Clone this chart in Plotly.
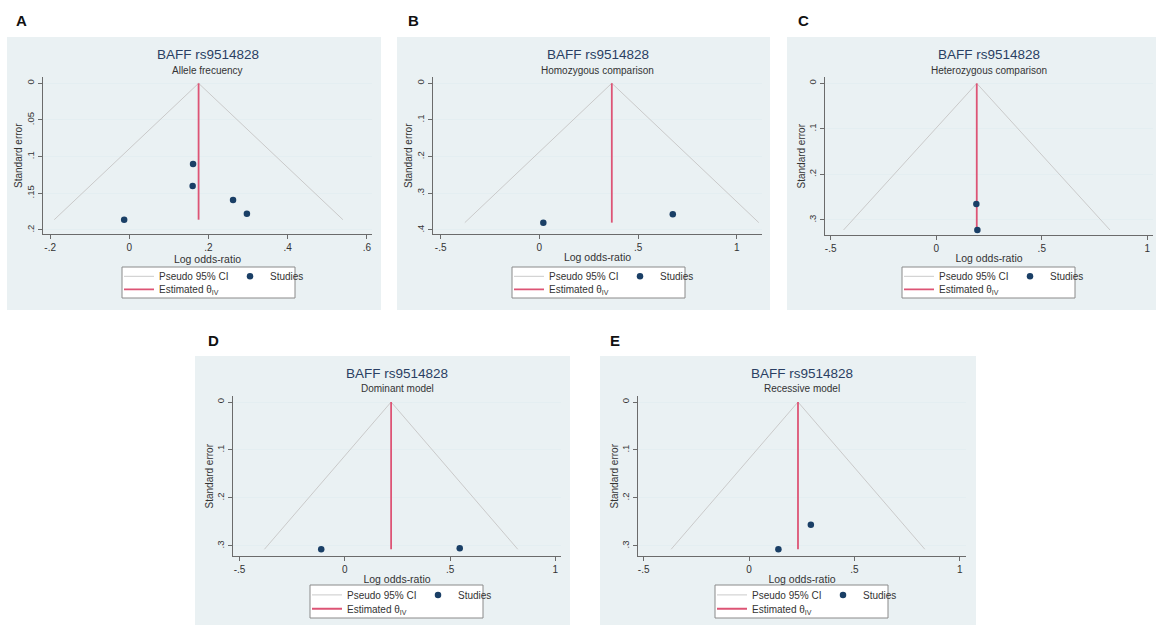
import plotly.graph_objects as go

W, H = 1156, 625

# ---------------- data ----------------
panels = ["A", "B", "C", "D", "E"]
main_title = "BAFF rs9514828"
subtitles = ["Allele frecuency", "Homozygous comparison", "Heterozygous comparison",
             "Dominant model", "Recessive model"]

# study log odds-ratios and standard errors
lor_A = [0.161, 0.160, 0.262, 0.297, -0.013]
se_A = [0.110, 0.140, 0.159, 0.178, 0.186]
lor_B = [0.020, 0.676]
se_B = [0.380, 0.357]
lor_C = [0.190, 0.195]
se_C = [0.265, 0.322]
lor_D = [-0.112, 0.546]
se_D = [0.307, 0.305]
lor_E = [0.293, 0.139]
se_E = [0.256, 0.307]

# pooled estimates (theta_IV)
theta = [0.175, 0.367, 0.192, 0.220, 0.232]

lors = [lor_A, lor_B, lor_C, lor_D, lor_E]
ses = [se_A, se_B, se_C, se_D, se_E]

# tick labels
xtick_vals = [[-0.2, 0, 0.2, 0.4, 0.6], [-0.5, 0, 0.5, 1], [-0.5, 0, 0.5, 1],
              [-0.5, 0, 0.5, 1], [-0.5, 0, 0.5, 1]]
xtick_text = [["-.2", "0", ".2", ".4", ".6"], ["-.5", "0", ".5", "1"], ["-.5", "0", ".5", "1"],
              ["-.5", "0", ".5", "1"], ["-.5", "0", ".5", "1"]]
ytick_vals = [[0, 0.05, 0.1, 0.15, 0.2], [0, 0.1, 0.2, 0.3, 0.4], [0, 0.1, 0.2, 0.3],
              [0, 0.1, 0.2, 0.3], [0, 0.1, 0.2, 0.3]]
ytick_text = [["0", ".05", ".1", ".15", ".2"], ["0", ".1", ".2", ".3", ".4"], ["0", ".1", ".2", ".3"],
              ["0", ".1", ".2", ".3"], ["0", ".1", ".2", ".3"]]

# ---------------- layout geometry (pixels) ----------------
plot_px = [(43, 372, 77, 234), (433, 762, 77, 234), (825, 1153, 77, 235),
           (233, 561, 396, 556), (638, 966, 396, 556)]
bg_px = [(7, 381, 37, 310), (397, 770, 37, 310), (787, 1156, 37, 310),
         (195, 570, 356, 625), (600, 976, 356, 625)]
xranges = [[-0.218, 0.613], [-0.539, 1.128], [-0.527, 1.027], [-0.531, 1.027], [-0.527, 1.029]]
yranges = [[0.2055, -0.0086], [0.411, -0.017], [0.333, -0.014], [0.321, -0.0125], [0.321, -0.0125]]
legend_px = [(122, 295, 267, 298), (512, 685, 267, 298), (902, 1075, 267, 298),
             (310, 483, 585, 618), (715, 888, 585, 618)]
letter_px = [(21, 20), (413, 20), (803, 20), (213, 340), (615, 340)]

BG = "#eaf1f3"
GRID = "#e4eef1"
NAVY = "#1a3f66"
RED = "#dd5475"
FUNNEL = "#cacaca"
AXIS = "#6b6b6b"
TXT = "#333333"
FONT = "Liberation Sans, Arial, sans-serif"


def fx(px):
    return px / W


def fy(py):
    return 1 - py / H


fig = go.Figure()
shapes = []
annotations = []
layout_axes = {}
legends = {}

for i in range(5):
    k = i + 1
    xa = "x" if k == 1 else f"x{k}"
    ya = "y" if k == 1 else f"y{k}"
    leg1 = "legend" if k == 1 else f"legend{2 * k - 1}"
    leg2 = f"legend{2 * k}"
    th = theta[i]
    semax = max(ses[i])

    # pseudo 95% CI funnel
    fig.add_trace(go.Scatter(
        x=[th - 1.96 * semax, th, th + 1.96 * semax], y=[semax, 0, semax],
        mode="lines", line=dict(color=FUNNEL, width=1),
        name="Pseudo 95% CI", xaxis=xa, yaxis=ya, legend=leg1, hoverinfo="skip"))
    # estimated theta line
    fig.add_trace(go.Scatter(
        x=[th, th], y=[0, semax], mode="lines", line=dict(color=RED, width=1.8),
        name="Estimated θ<sub>IV</sub>", xaxis=xa, yaxis=ya, legend=leg2))
    # studies
    fig.add_trace(go.Scatter(
        x=lors[i], y=ses[i], mode="markers",
        marker=dict(color=NAVY, size=6.5),
        name="Studies", xaxis=xa, yaxis=ya, legend=leg1))

    l, r, t, b = plot_px[i]
    axis_common = dict(showline=True, linecolor=AXIS, linewidth=1, ticks="outside",
                       ticklen=4, tickcolor=AXIS, zeroline=False)
    xkey = "xaxis" if k == 1 else f"xaxis{k}"
    ykey = "yaxis" if k == 1 else f"yaxis{k}"
    layout_axes[xkey] = dict(
        domain=[fx(l), fx(r)], range=xranges[i], anchor=ya, showgrid=False,
        tickmode="array", tickvals=xtick_vals[i], ticktext=xtick_text[i],
        tickfont=dict(size=10, color=TXT, family=FONT),
        title=dict(text="Log odds-ratio", font=dict(size=10.5, color=TXT, family=FONT), standoff=1),
        **axis_common)
    layout_axes[ykey] = dict(
        domain=[fy(b), fy(t)], range=yranges[i], anchor=xa, showgrid=True,
        gridcolor=GRID, gridwidth=1, tickangle=-90,
        tickmode="array", tickvals=ytick_vals[i], ticktext=ytick_text[i],
        tickfont=dict(size=9.5, color=TXT, family=FONT),
        **axis_common)

    # y-axis title (rotated text next to the tick labels)
    annotations.append(dict(text="Standard error", x=fx(l - 24.5), y=fy((t + b) / 2),
                            xref="paper", yref="paper", showarrow=False, textangle=-90,
                            xanchor="center", yanchor="middle",
                            font=dict(size=10, color=TXT, family=FONT)))

    # panel background
    bl, br, bt, bb = bg_px[i]
    shapes.append(dict(type="rect", xref="paper", yref="paper", layer="below",
                       x0=fx(bl), x1=fx(br), y0=fy(bb), y1=fy(bt),
                       fillcolor=BG, line=dict(width=0)))
    # legend box
    ll, lr, lt, lb = legend_px[i]
    shapes.append(dict(type="rect", xref="paper", yref="paper", layer="above",
                       x0=fx(ll), x1=fx(lr), y0=fy(lb), y1=fy(lt),
                       fillcolor="white", line=dict(color="#8a8a8a", width=1)))
    row1 = lt + (lb - lt) * 0.30
    row2 = lt + (lb - lt) * 0.72
    leg_common = dict(orientation="h", xanchor="left", yanchor="middle",
                      bgcolor="rgba(0,0,0,0)", borderwidth=0,
                      font=dict(size=10, color=TXT, family=FONT), itemwidth=30)
    legends[leg1] = dict(x=fx(ll - 3), y=fy(row1), entrywidth=66, **leg_common)
    legends[leg2] = dict(x=fx(ll - 3), y=fy(row2), **leg_common)

    # titles
    cx = (l + r) / 2
    annotations.append(dict(text=main_title, x=fx(cx), y=fy(55 if i < 3 else 373),
                            xref="paper", yref="paper", showarrow=False,
                            xanchor="center", yanchor="middle",
                            font=dict(size=13.5, color="#2a3f63", family=FONT)))
    annotations.append(dict(text=subtitles[i], x=fx(cx), y=fy(70.5 if i < 3 else 389),
                            xref="paper", yref="paper", showarrow=False,
                            xanchor="center", yanchor="middle",
                            font=dict(size=10, color=TXT, family=FONT)))
    # panel letter
    px_, py_ = letter_px[i]
    annotations.append(dict(text=f"<b>{panels[i]}</b>", x=fx(px_), y=fy(py_), xref="paper", yref="paper",
                            showarrow=False, xanchor="center", yanchor="middle",
                            font=dict(size=15, color="#111111", family="Liberation Sans, Arial")))

fig.update_layout(
    width=W, height=H, margin=dict(l=0, r=0, t=0, b=0),
    paper_bgcolor="white", plot_bgcolor="white",
    shapes=shapes, annotations=annotations, showlegend=True,
    **layout_axes, **legends)

fig.write_html("out.html", config={"displayModeBar": False},
               post_script="document.body.style.margin='0';")
